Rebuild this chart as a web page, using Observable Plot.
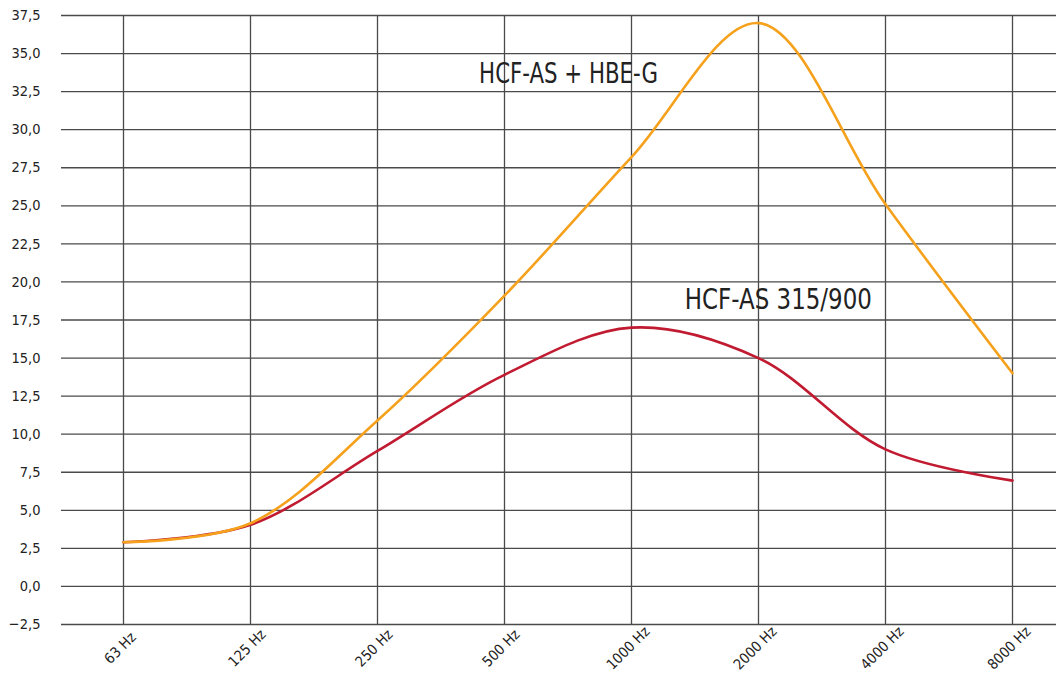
<!DOCTYPE html>
<html><head><meta charset="utf-8">
<script src="https://cdn.jsdelivr.net/npm/d3@7"></script>
<script src="https://cdn.jsdelivr.net/npm/@observablehq/plot@0.6"></script>
<style>body{margin:0;background:#fff;overflow:hidden} svg text{font-stretch:condensed}</style>
</head><body><div id="chart"></div>
<script>
const bands = ["63 Hz", "125 Hz", "250 Hz", "500 Hz", "1000 Hz", "2000 Hz", "4000 Hz", "8000 Hz"];
const hcfAsHbeG = [2.9, 4.15, 10.9, 19.1, 28.2, 37.0, 25.1, 14.0];
const hcfAs315 = [2.9, 4.05, 8.9, 13.9, 17.0, 15.0, 9.0, 6.95];
const yTicks = d3.range(-2.5, 37.51, 2.5);
const seriesNames = ["HCF-AS + HBE-G", "HCF-AS 315/900"];
const seriesColors = ["#F5A11C", "#C11B32"];
const labelPos = [{i: 2.8, v: 33.7}, {i: 4.42, v: 18.85}];
const labelWidths = [179, 187];

const data = [];
bands.forEach((b, i) => {
  data.push({i, band: b, value: hcfAs315[i], series: seriesNames[1]});
});
bands.forEach((b, i) => {
  data.push({i, band: b, value: hcfAsHbeG[i], series: seriesNames[0]});
});
const labels = seriesNames.map((s, k) => ({text: s, i: labelPos[k].i, v: labelPos[k].v}));

const fmt = d => (d < 0 ? "\u2212" : "") + Math.abs(d).toFixed(1).replace(".", ",");
const font = "'DejaVu Sans Condensed','DejaVu Sans',sans-serif";

const chart = Plot.plot({
  width: 1056, height: 681,
  marginLeft: 61, marginRight: 0, marginTop: 15, marginBottom: 57,
  x: {type: "linear", domain: [0, bands.length - 1], range: [123, 1012], axis: null},
  y: {domain: [-2.5, 37.5], axis: null},
  color: {domain: seriesNames, range: seriesColors},
  style: {fontFamily: font, background: "white", color: "#222"},
  marks: [
    Plot.ruleY(yTicks, {stroke: "#4a4a4a", strokeWidth: 1.3}),
    Plot.ruleX(d3.range(bands.length), {stroke: "#4a4a4a", strokeWidth: 1.3}),
    Plot.text(yTicks, {y: d => d, text: fmt, frameAnchor: "left", textAnchor: "end", dx: -21, fontSize: 14.5, fill: "#222"}),
    Plot.text(bands, {x: (d, i) => i, text: d => d, frameAnchor: "bottom", rotate: -45, dy: 27, fontSize: 14.5, fill: "#222"}),
    Plot.line(data, {x: "i", y: "value", z: "series", stroke: "series", curve: "catmull-rom", strokeWidth: 2.6}),
    Plot.text(labels, {x: "i", y: "v", text: "text", textAnchor: "start", fontSize: 29, fill: "#222", className: "serieslabel"})
  ]
});
document.getElementById("chart").append(chart);
chart.querySelectorAll(".serieslabel text").forEach(t => {
  const k = seriesNames.indexOf(t.textContent);
  if (k >= 0) {
    t.setAttribute("textLength", labelWidths[k]);
    t.setAttribute("lengthAdjust", "spacingAndGlyphs");
  }
});
</script>
</body></html>
